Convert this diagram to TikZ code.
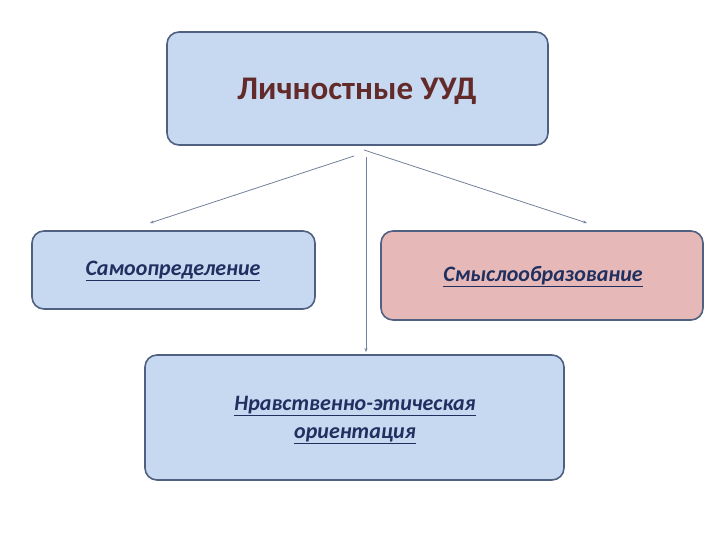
\documentclass[tikz,border=0pt]{standalone}
\usepackage{fontspec}
\setmainfont{Carlito}
\usetikzlibrary{arrows.meta}
\definecolor{bfill}{HTML}{C6D9F1}
\definecolor{pfill}{HTML}{E6B9B8}
\definecolor{bord}{HTML}{4F6080}
\definecolor{ttop}{HTML}{632A2A}
\definecolor{tlow}{HTML}{1F2F5F}
\begin{document}
\begin{tikzpicture}[x=1pt,y=-1pt,
 box/.style={draw=bord,line width=1.6pt,rounded corners=12pt,fill=bfill},
 lowtxt/.style={font=\bfseries\itshape\fontsize{22}{28}\selectfont,text=tlow,align=center},
 conn/.style={draw=bord!80,line width=0.8pt,-{Stealth[length=4pt,width=3pt]}}]
\useasboundingbox (0,0) rectangle (720,540);
\path[box] (167,32) rectangle (548,145);
\node[font=\bfseries\fontsize{33}{40}\selectfont,text=ttop] (top) at (357,91) {Личностные УУД};
\path[box] (32,231) rectangle (315,309);
\node[lowtxt] (a) at (173,271) {\underline{Самоопределение}};
\path[box,fill=pfill] (381,231) rectangle (703,320);
\node[lowtxt] (b) at (543,277) {\underline{Смыслообразование}};
\path[box] (145,355) rectangle (564,480);
\node[lowtxt] (c) at (355,420) {\underline{Нравственно-этическая}\\\underline{ориентация}};
\coordinate (s1) at (354,156); \coordinate (e1) at (150,223);
\coordinate (s2) at (364,150); \coordinate (e2) at (587,223);
\coordinate (s3) at (366,157); \coordinate (e3) at (366,352);
\draw[conn] (s1) -- (e1);
\draw[conn] (s2) -- (e2);
\draw[conn] (s3) -- (e3);
\end{tikzpicture}
\end{document}
